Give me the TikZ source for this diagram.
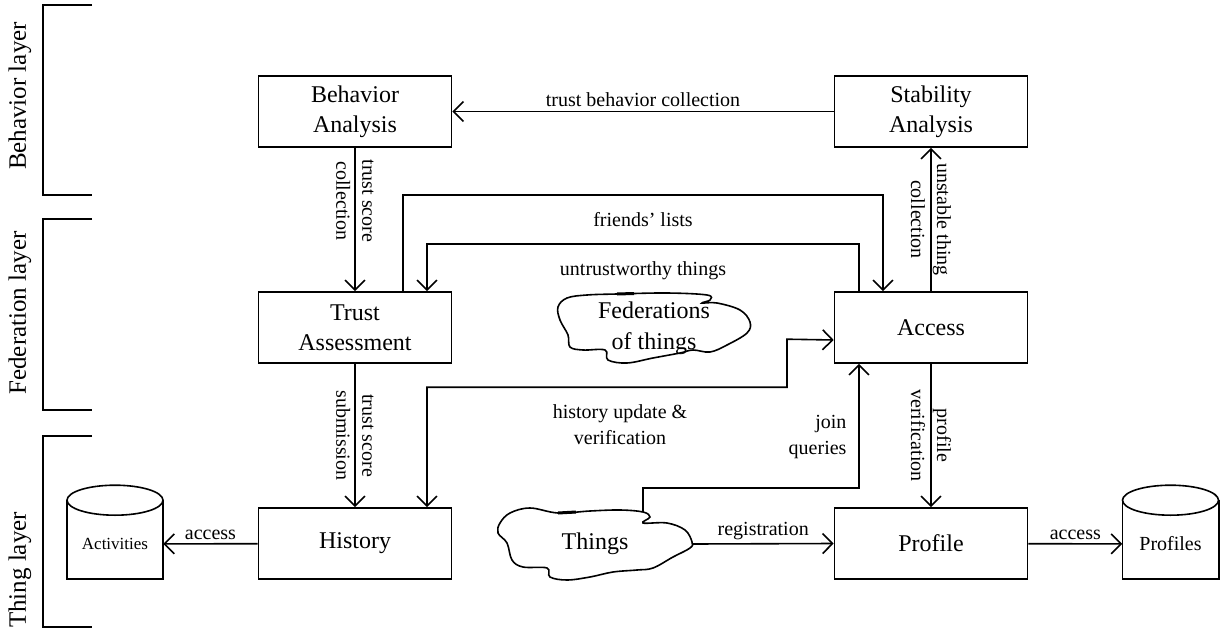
\documentclass[tikz,border=0pt]{standalone}
\usepackage{fontspec}
\setmainfont{Liberation Serif}
\usetikzlibrary{arrows.meta}
\tikzstyle{block} = [rectangle, draw, line width=1.6pt, minimum width=193pt, minimum height=71pt, align=center, font=\fontsize{24}{30}\selectfont]
\tikzstyle{lbl} = [align=center, font=\fontsize{20}{26}\selectfont]
\tikzstyle{store} = [rectangle, minimum width=96pt, minimum height=70pt]
\tikzstyle{layer} = [rotate=90, font=\fontsize{25}{30}\selectfont]
\tikzstyle{link} = [line width=1.6pt, >={Straight Barb[length=10pt,width=20pt]}]
\begin{document}
\begin{tikzpicture}[x=1pt, y=-1pt]

        \useasboundingbox (0, 0) rectangle (1225, 631);

        % layers
        \draw[line width=1.6pt] (92, 5) -- (43, 5) -- (43, 195) -- (92, 195);
        \draw[line width=1.6pt] (92, 219) -- (43, 219) -- (43, 410) -- (92, 410);
        \draw[line width=1.6pt] (92, 436) -- (43, 436) -- (43, 627) -- (92, 627);
        \node[layer] at (20, 96) (behaviorlayer) {Behavior layer};
        \node[layer] at (20, 313) (federationlayer) {Federation layer};
        \node[layer] at (20, 570) (thinglayer) {Thing layer};

        \node[block] at (355, 111.5) (behavior) {Behavior\\Analysis};
        \node[block] at (931, 111.5) (stability) {Stability\\Analysis};
        \node[block] at (355, 327.5) (trust) {Trust\\Assessment};
        \node[block] at (931, 327.5) (access) {Access};
        \node[block] at (355, 543.5) (history) {History};
        \node[block] at (931, 543.5) (profile) {Profile};

        % clouds
        \draw[line width=1.6pt] plot[smooth cycle, tension=0.6] coordinates {(558, 307) (567, 298) (587, 295) (617, 294) (667, 293) (707, 295) (710, 300) (702, 303) (717, 303) (740, 310) (750, 322) (747, 333) (727, 345) (710, 352) (693, 350) (680, 353) (653, 358) (627, 363) (608, 360) (605, 350) (583, 350) (570, 347) (568, 335) (560, 320)};
        \draw[line width=3pt] (617, 294) -- (634, 293.5);
        \node[align=center, font=\fontsize{24}{31}\selectfont, minimum width=190pt, minimum height=70pt] at (654, 328) (federations) {Federations\\of things};

        \draw[line width=1.6pt] plot[smooth cycle, tension=0.6] coordinates {(500, 523) (510, 513) (530, 508) (558, 513) (590, 511) (620, 510) (643, 512) (650, 517) (643, 523) (667, 523) (685, 530) (692, 542) (690, 548) (673, 557) (653, 568) (637, 570) (613, 572) (590, 577) (567, 580) (550, 577) (547, 568) (523, 567) (512, 560) (507, 543) (498, 533)};
        \draw[line width=3pt] (558, 513) -- (576, 512);
        \node[font=\fontsize{24}{30}\selectfont, minimum width=195pt, minimum height=64pt] at (595, 544) (things) {Things};

        % stores
        \node[store, font=\fontsize{17}{20}\selectfont] at (115, 544) (activities) {Activities};
        \draw[line width=1.6pt] ([yshift=79pt]activities.south west) -- (activities.south west) -- (activities.south east) -- ([yshift=79pt]activities.south east);
        \draw[line width=1.6pt] ([yshift=79pt]activities.south) ellipse [x radius=48pt, y radius=15pt];
        \node[store, font=\fontsize{20}{24}\selectfont] at (1170.5, 544) (profiles) {Profiles};
        \draw[line width=1.6pt] ([yshift=79pt]profiles.south west) -- (profiles.south west) -- (profiles.south east) -- ([yshift=79pt]profiles.south east);
        \draw[line width=1.6pt] ([yshift=79pt]profiles.south) ellipse [x radius=48pt, y radius=15pt];

        \draw[link, ->] (stability) -- (behavior) node[lbl, midway, above=1pt] {trust behavior collection};
        \draw[link, ->] (behavior) -- (trust) node[lbl, rotate=-90, pos=0.37] {trust score\\collection};
        \draw[link, ->] (trust) -- (history) node[lbl, rotate=-90, midway] {trust score\\submission};
        \draw[link, ->] (access) -- (stability) node[lbl, rotate=-90, midway] {unstable thing\\collection};
        \draw[link, ->] (access) -- (profile) node[lbl, rotate=-90, midway] {profile\\verification};

        \draw[link, ->] ([xshift=48pt]trust.north) |- ([xshift=-48pt, yshift=96pt]access.north) node[lbl, pos=0.75, below=13pt] {friends' lists} -- ([xshift=-48pt]access.north);
        \draw[link, ->] ([xshift=-72pt]access.north) |- ([xshift=72pt, yshift=47pt]trust.north) node[lbl, pos=0.75, below=13pt] {untrustworthy things} -- ([xshift=72pt]trust.north);

        \draw[link, <->] ([xshift=72pt]history.north) -- ++(0, -120) -| ++(360, -48) -- ([yshift=-12.5pt]access.west);
        \node[lbl] at (620, 425) (historylabel) {history update \&\\verification};

        \draw[link, ->] ([xshift=48pt]things.north) -- ++(0, -24) -| ([xshift=-72pt]access.south);
        \node[lbl, align=right, anchor=east] at (850, 437) (joinlabel) {join\\queries};

        \draw[link, ->] (things.east) -- (profile.west) node[lbl, midway, above] {registration};
        \draw[link, ->] (history) -- (activities) node[lbl, midway, above] {access};
        \draw[link, ->] (profile) -- (profiles) node[lbl, midway, above] {access};

    \end{tikzpicture}
\end{document}
